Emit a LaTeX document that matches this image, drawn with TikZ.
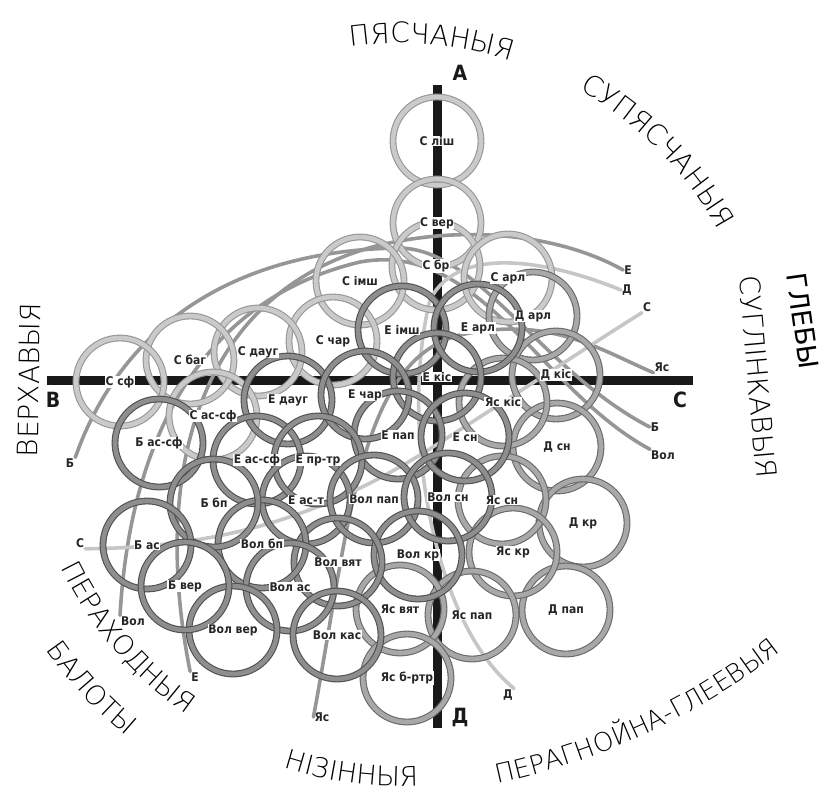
\documentclass[tikz,border=0pt]{standalone}
\usepackage{fontspec}
\usepackage{tikz}
\usetikzlibrary{calc, decorations.text}
\IfFontExistsTF{DejaVu Sans ExtraLight}
  {\newfontfamily\zonefont{DejaVu Sans ExtraLight}}
  {\newfontfamily\zonefont{DejaVu Sans}}
\IfFontExistsTF{DejaVu Sans Condensed}
  {\newfontfamily\tagfont{DejaVu Sans Condensed}}
  {\newfontfamily\tagfont{DejaVu Sans}}
\newfontfamily\headfont{DejaVu Sans}
\definecolor{liteedge}{RGB}{150,150,150}
\definecolor{litefill}{RGB}{202,202,202}
\definecolor{midedge}{RGB}{105,105,105}
\definecolor{midfill}{RGB}{168,168,168}
\definecolor{darkedge}{RGB}{80,80,80}
\definecolor{darkfill}{RGB}{142,142,142}
\definecolor{trailgray}{RGB}{150,150,150}
\definecolor{traillite}{RGB}{198,198,198}
\definecolor{axisblack}{RGB}{25,25,25}

% circles: name/x/y/label
\newcommand\litelist{sLis/437/141/{С ліш}, sVer/437/223/{С вер}, sBr/436/266/{С бр},
  sImsh/360/281/{С імш}, sArl/508/278/{С арл}, sChar/333/341/{С чар},
  sDaug/258/352/{С дауг}, sBag/190/360/{С баг}, sSf/120/382/{С сф}, sAsSf/213/416/{С ас-сф}}
\newcommand\midlist{dArl/533/316/{Д арл}, dKis/556/375/{Д кіс}, dSn/557/447/{Д сн},
  dKr/583/523/{Д кр}, dPap/566/610/{Д пап}, yaKis/503/402/{Яс кіс}, yaSn/502/500/{Яс сн},
  yaKr/513/552/{Яс кр}, yaPap/472/615/{Яс пап}, yaVyat/400/609/{Яс вят}, yaBrtr/407/678/{Яс б-ртр}}
\newcommand\darklist{eImsh/402/330/{Е імш}, eArl/478/328/{Е арл}, eKis/437/377/{Е кіс},
  eDaug/288/400/{Е дауг}, eChar/365/395/{Е чар}, ePap/398/435/{Е пап}, eSn/465/437/{Е сн},
  eAsSf/257/460/{Е ас-сф}, ePrTr/318/460/{Е пр-тр}, eAsT/306/500/{Е ас-т},
  volPap/374/499/{Вол пап}, volSn/448/497/{Вол сн}, volKr/418/555/{Вол кр},
  volVyat/338/562/{Вол вят}, volBp/262/544/{Вол бп}, volAs/290/587/{Вол ас},
  volVer/233/630/{Вол вер}, volKas/337/635/{Вол кас},
  bAsSf/159/443/{Б ас-сф}, bBp/214/503/{Б бп}, bAs/147/545/{Б ас}, bVer/185/586/{Б вер}}

\begin{document}
\begin{tikzpicture}[
  x=1pt, y=-1pt,
  ringlite/.style={circle, minimum size=88pt, inner sep=0pt, outer sep=0pt, draw=liteedge, line width=1.1pt, double=litefill, double distance=4.6pt},
  ringmid/.style={ringlite, draw=midedge, double=midfill},
  ringdark/.style={ringlite, draw=darkedge, double=darkfill},
  soiltag/.style={font=\tagfont\bfseries\fontsize{12}{12}\selectfont, fill=white, inner sep=0.6pt, text=black!85},
  endtag/.style={font=\tagfont\bfseries\fontsize{12}{12}\selectfont, inner sep=1pt, text=black!85},
  axistag/.style={font=\tagfont\bfseries\fontsize{21}{21}\selectfont, inner sep=0pt, text=black!90},
  axisbar/.style={line width=9pt, axisblack},
  trail/.style={line width=3.6pt, trailgray, line cap=round},
  zone/.style={font=\zonefont\fontsize{28}{28}\selectfont, inner sep=0pt},
]
  \useasboundingbox (0,0) rectangle (829,792);
  \coordinate (ctr) at (400,405);
  \coordinate (ctrP) at (351,99);

  % axes
  \coordinate (aTop) at (437,85);
  \coordinate (aBot) at (437,728);
  \coordinate (aLeft) at (47,380);
  \coordinate (aRight) at (693,380);
  \draw[axisbar] (aTop) -- (aBot);
  \draw[axisbar] (aLeft) -- (aRight);
  \node[axistag] (axA) at (460,73) {А};
  \node[axistag] (axB) at (53,400) {В};
  \node[axistag] (axC) at (680,400) {С};
  \node[axistag] (axD) at (460,717) {Д};

  % ends of the series lines
  \node[endtag] (bL) at (70,463) {Б};
  \node[endtag] (sL) at (80,543) {С};
  \node[endtag] (volL) at (133,621) {Вол};
  \node[endtag] (eL) at (195,677) {Е};
  \node[endtag] (yaL) at (322,717) {Яс};
  \node[endtag] (dL) at (508,695) {Д};
  \node[endtag] (eR) at (628,270) {Е};
  \node[endtag] (dR) at (627,290) {Д};
  \node[endtag] (sR) at (647,307) {С};
  \node[endtag] (yaR) at (662,367) {Яс};
  \node[endtag] (bR) at (655,427) {Б};
  \node[endtag] (volR) at (663,455) {Вол};

  \draw[trail] (bL.north east) .. controls (120,330) and (230,250) .. (400,248) .. controls (480,250) and (540,370) .. (bR.west);
  \draw[trail] (volL.north west) .. controls (130,440) and (200,300) .. (360,262) .. controls (480,240) and (540,390) .. (volR.north west);
  \draw[trail] (eL.north west) .. controls (150,470) and (200,290) .. (380,245) .. controls (480,222) and (570,240) .. (eR.west);
  \draw[trail, traillite] (dL.north east) .. controls (430,620) and (400,420) .. (430,300) .. controls (460,240) and (560,265) .. (dR.west);
  \draw[trail] (yaL.west) .. controls (350,520) and (360,360) .. (460,335) .. controls (550,315) and (600,350) .. (yaR.south west);
  \draw[trail, traillite] (sL.south east) .. controls (230,548) and (330,510) .. (420,455) .. controls (500,405) and (590,345) .. (sR.south west);

  % soil circles
  \foreach \nm/\px/\py/\tx in \litelist {\node[ringlite] (\nm) at (\px,\py) {};}
  \foreach \nm/\px/\py/\tx in \midlist {\node[ringmid] (\nm) at (\px,\py) {};}
  \foreach \nm/\px/\py/\tx in \darklist {\node[ringdark] (\nm) at (\px,\py) {};}
  \foreach \nm/\px/\py/\tx in \litelist {\node[soiltag] (\nm-t) at (\nm) {\tx};}
  \foreach \nm/\px/\py/\tx in \midlist {\node[soiltag] (\nm-t) at (\nm) {\tx};}
  \foreach \nm/\px/\py/\tx in \darklist {\node[soiltag] (\nm-t) at (\nm) {\tx};}

  % zone names round the diagram
  \path[decorate, decoration={text along path, text align=center, text={|\zonefont\fontsize{28}{28}\selectfont|ПЯСЧАНЫЯ}}]
    ($(ctr)+(115:362pt)$) arc[start angle=115, end angle=55, radius=362pt];
  \path[decorate, decoration={text along path, text align=center, text={|\zonefont\fontsize{28}{28}\selectfont|СУПЯСЧАНЫЯ}}]
    ($(ctr)+(75:363pt)$) arc[start angle=75, end angle=14, radius=363pt];
  \path[decorate, decoration={text along path, text align=center, text={|\zonefont\fontsize{27}{27}\selectfont|НІЗІННЫЯ}}]
    ($(ctr)+(232:381pt)$) arc[start angle=232, end angle=293, radius=381pt];
  \path[decorate, decoration={text along path, text align=center, text={|\zonefont\fontsize{26}{26}\selectfont|ПЕРАГНОЙНА-ГЛЕЕВЫЯ}}]
    ($(ctrP)+(266:700pt)$) arc[start angle=266, end angle=324, radius=700pt];
  \path[decorate, decoration={text along path, text align=center, text={|\zonefont\fontsize{27}{27}\selectfont|ПЕРАХОДНЫЯ}}]
    ($(ctr)+(190:376pt)$) arc[start angle=190, end angle=251, radius=376pt];
  \path[decorate, decoration={text along path, text align=center, text={|\zonefont\fontsize{27}{27}\selectfont|БАЛОТЫ}}]
    ($(ctr)+(200:430pt)$) arc[start angle=200, end angle=245, radius=430pt];
  \node[zone, rotate=89] (zVerkh) at (29,380) {ВЕРХАВЫЯ};
  \node[zone, rotate=-85] (zSugl) at (758,377) {СУГЛІНКАВЫЯ};
  \node[zone, font=\headfont\fontsize{27}{27}\selectfont, rotate=-82] (zGleby) at (803,321) {ГЛЕБЫ};
\end{tikzpicture}
\end{document}
